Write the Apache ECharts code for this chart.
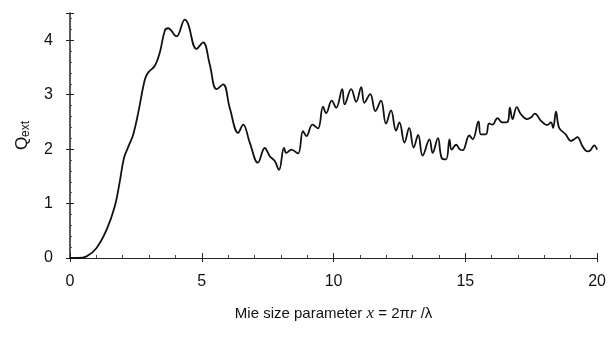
<!DOCTYPE html>
<html><head><meta charset="utf-8">
<script src="https://cdn.jsdelivr.net/npm/echarts@6/dist/echarts.min.js"></script>
<style>html,body{margin:0;padding:0;background:#fff}#c{width:609px;height:338px}</style>
</head><body><div id="c"></div>
<script>
const sizeParam = [0, 0.3, 0.63, 1.0, 1.39, 1.70, 1.88, 2.05, 2.21, 2.40, 2.59, 2.84, 2.97, 3.22, 3.41, 3.60, 3.72, 4.04, 4.36, 4.48, 4.80, 5.05, 5.30, 5.56, 5.81, 6.06, 6.38, 6.57, 6.82, 7.13, 7.39, 7.58, 7.77, 7.93, 8.12, 8.21, 8.40, 8.65, 8.84, 8.97, 9.20, 9.41, 9.60, 9.72, 9.93, 10.10, 10.33, 10.42, 10.67, 10.86, 11.05, 11.17, 11.39, 11.59, 11.80, 11.99, 12.18, 12.37, 12.50, 12.69, 12.87, 13.04, 13.21, 13.38, 13.64, 13.76, 13.96, 14.10, 14.27, 14.40, 14.48, 14.65, 14.78, 14.90, 15.15, 15.28, 15.50, 15.59, 15.78, 15.90, 16.03, 16.22, 16.40, 16.60, 16.69, 16.79, 16.95, 17.11, 17.34, 17.49, 17.64, 17.87, 18.10, 18.25, 18.33, 18.44, 18.56, 18.81, 19.00, 19.13, 19.25, 19.45, 19.63, 19.75, 19.89, 20.0];
const qExt = [0, 0.0, 0.03, 0.18, 0.52, 0.95, 1.38, 1.84, 2.04, 2.27, 2.67, 3.28, 3.41, 3.53, 3.78, 4.18, 4.22, 4.07, 4.38, 4.30, 3.84, 3.96, 3.56, 3.10, 3.19, 2.76, 2.30, 2.45, 2.12, 1.75, 2.02, 1.87, 1.78, 1.62, 2.02, 1.93, 1.99, 1.92, 2.33, 2.24, 2.45, 2.38, 2.78, 2.66, 2.89, 2.76, 3.10, 2.82, 3.10, 2.87, 3.14, 2.85, 3.01, 2.70, 2.89, 2.47, 2.71, 2.34, 2.49, 2.12, 2.39, 2.03, 2.26, 1.88, 2.18, 1.93, 2.20, 1.84, 1.81, 2.18, 1.99, 2.08, 2.00, 1.98, 2.25, 2.18, 2.51, 2.27, 2.27, 2.47, 2.45, 2.57, 2.49, 2.50, 2.76, 2.55, 2.77, 2.64, 2.55, 2.58, 2.65, 2.52, 2.44, 2.49, 2.39, 2.69, 2.39, 2.27, 2.15, 2.18, 2.22, 2.05, 1.96, 1.98, 2.07, 1.99];
const xTicks = [0, 5, 10, 15, 20];
const yTicks = [0, 1, 2, 3, 4];

const chart = echarts.init(document.getElementById('c'));
const font = 'Liberation Sans, Arial, Helvetica, sans-serif';
const axisCol = '#222';
chart.setOption({
  animation: false,
  grid: {left: 70, right: 11, top: 13, bottom: 80},
  xAxis: [{
    type: 'value', min: xTicks[0], max: xTicks[xTicks.length-1], interval: 5,
    axisLine: {lineStyle: {color: axisCol, width: 1}},
    axisTick: {inside: true, length: 5, lineStyle: {color: axisCol}},
    minorTick: {show: true, splitNumber: 5, length: 3, lineStyle: {color: '#444'}},
    splitLine: {show: false},
    axisLabel: {fontFamily: font, fontSize: 16, color: '#111', margin: 16},
    name: '{t|Mie size parameter }{i|x}{t| = 2π}{i|r}{t| /λ}',
    nameLocation: 'middle', nameGap: 47,
    nameTextStyle: {rich: {
      t: {fontFamily: font, fontSize: 15, color: '#111'},
      i: {fontFamily: 'Liberation Serif, Times New Roman, serif', fontStyle: 'italic', fontSize: 17, color: '#111'}
    }}
  }, {
    type: 'value', min: xTicks[0], max: xTicks[xTicks.length-1], interval: 5, position: 'bottom',
    axisLine: {show: false}, axisLabel: {show: false}, splitLine: {show: false},
    axisTick: {inside: false, length: 4, lineStyle: {color: axisCol}}
  }],
  yAxis: [{
    type: 'value', min: 0, max: 4.5, interval: 1,
    axisLine: {show: true, lineStyle: {color: axisCol, width: 1.5}},
    axisTick: {show: true, inside: true, length: 4, lineStyle: {color: axisCol}},
    minorTick: {show: true, splitNumber: 5, length: 2, lineStyle: {color: '#555'}},
    splitLine: {show: false},
    axisLabel: {fontFamily: font, fontSize: 16, color: '#111', margin: 17, showMaxLabel: false,
      formatter: v => yTicks.indexOf(v) >= 0 ? String(v) : ''},
    name: '{q|Q}{s|ext}', nameLocation: 'middle', nameGap: 38, nameRotate: 90,
    nameTextStyle: {rich: {
      q: {fontFamily: font, fontSize: 17, color: '#111'},
      s: {fontFamily: font, fontSize: 12, color: '#111', padding: [8, 0, 0, 0]}
    }}
  }, {
    type: 'value', min: 0, max: 4.5, interval: 1, position: 'left',
    axisLine: {show: false}, axisLabel: {show: false}, splitLine: {show: false},
    axisTick: {show: true, inside: false, length: 4, lineStyle: {color: axisCol}}
  }],
  series: [{
    type: 'line', xAxisIndex: 0, yAxisIndex: 0,
    data: sizeParam.map((x, i) => [x, qExt[i]]),
    showSymbol: false, symbol: 'none', smooth: 0.4,
    lineStyle: {color: '#111', width: 1.8}
  }]
});
</script></body></html>
